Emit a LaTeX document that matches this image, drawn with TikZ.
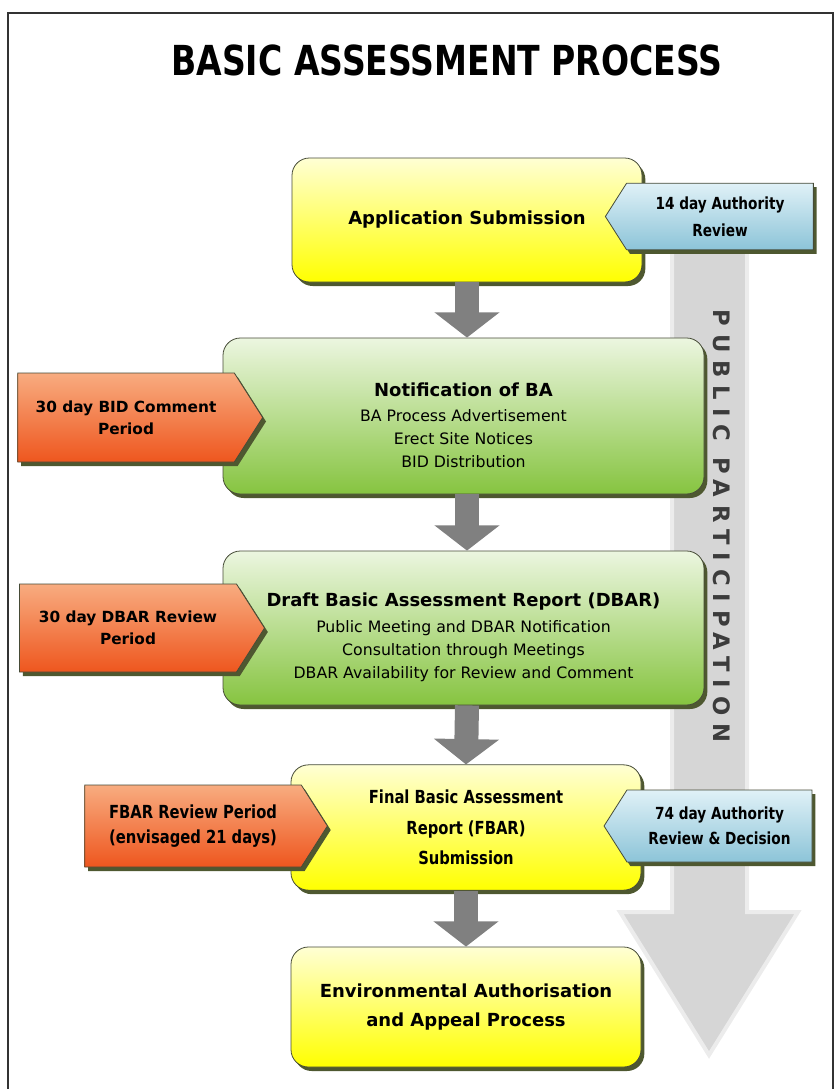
\documentclass[tikz,border=0pt]{standalone}
\usepackage{fontspec}
\setmainfont{DejaVu Sans}
\newfontfamily\titlefont[FakeStretch=0.8]{DejaVu Sans}
\newfontfamily\narrowfont[FakeStretch=0.82]{DejaVu Sans}
\newfontfamily\ppfont[LetterSpace=35]{DejaVu Sans}
\usetikzlibrary{arrows.meta,shapes.symbols,shadows}

\definecolor{ytop}{RGB}{255,255,212}
\definecolor{ybot}{RGB}{255,255,0}
\definecolor{gtop}{RGB}{236,246,224}
\definecolor{gbot}{RGB}{134,196,64}
\definecolor{otop}{RGB}{248,172,128}
\definecolor{obot}{RGB}{238,86,30}
\definecolor{btop}{RGB}{224,241,247}
\definecolor{bbot}{RGB}{140,196,216}
\definecolor{boxline}{RGB}{70,75,55}
\definecolor{shadecol}{RGB}{78,88,48}
\definecolor{flowgray}{RGB}{128,128,128}
\definecolor{ppfill}{RGB}{214,214,214}
\definecolor{ppedge}{RGB}{236,236,236}
\definecolor{pptext}{RGB}{60,60,60}

\begin{document}
\begin{tikzpicture}[x=0.75pt,y=-0.75pt]
    \tikzstyle{box}=[draw=boxline,line width=0.6pt,align=center,rounded corners=13pt,
        drop shadow={shadow xshift=2.5pt,shadow yshift=-3pt,fill=shadecol,opacity=1}]
    \tikzstyle{yellow box}=[box,top color=ytop,bottom color=ybot,minimum width=262.5pt]
    \tikzstyle{green box}=[box,top color=gtop,bottom color=gbot,minimum width=360.75pt]
    \tikzstyle{tab}=[shape=signal,signal from=nowhere,signal pointer angle=115,draw=boxline,
        line width=0.6pt,align=center,inner sep=2pt,
        drop shadow={shadow xshift=2.5pt,shadow yshift=-3pt,fill=shadecol,opacity=1}]
    \tikzstyle{orange tab}=[tab,signal to=east,top color=otop,bottom color=obot]
    \tikzstyle{blue tab}=[tab,signal to=west,top color=btop,bottom color=bbot]
    \tikzstyle{flow}=[draw=flowgray,line width=18pt,-{Triangle[width=48pt,length=19pt]}]
    \tikzstyle{head}=[font=\bfseries\fontsize{13.5}{17}\selectfont]

    \useasboundingbox (0,0) rectangle (837,1089);
    \draw[line width=1.5pt,draw=black!80] (8,13) rectangle (833,1100);

    \node (title) at (447,60) {\titlefont\bfseries\fontsize{31}{31}\selectfont BASIC ASSESSMENT PROCESS};

    % public participation arrow
    \draw[fill=ppfill,draw=ppedge,line width=3pt,line join=miter]
        (672,200) -- (747,200) -- (747,912) -- (798,912) -- (709,1055) -- (620,912) -- (672,912) -- cycle;
    \node[rotate=-90,text=pptext] (pp) at (722,526)
        {\ppfont\bfseries\fontsize{17}{17}\selectfont PUBLIC PARTICIPATION};

    % main boxes
    \node[yellow box,minimum height=93pt,head] (as) at (467,220) {Application Submission};
    \node[green box,minimum height=117pt,font=\fontsize{11.8}{17.25}\selectfont] (nba) at (463.5,416)
        {\rule{0pt}{24pt}{\bfseries\fontsize{13.5}{17}\selectfont Notification of BA}\\[2pt]
        BA Process Advertisement\\Erect Site Notices\\BID Distribution};
    \node[green box,minimum height=115.5pt,font=\fontsize{11.8}{17.25}\selectfont] (dbar) at (463.5,628)
        {\rule{0pt}{24pt}{\bfseries\fontsize{13.5}{17}\selectfont Draft Basic Assessment Report (DBAR)}\\[2pt]
        Public Meeting and DBAR Notification\\Consultation through Meetings\\DBAR Availability for Review and Comment};
    \node[yellow box,minimum height=94pt,font=\narrowfont\bfseries\fontsize{13.5}{23}\selectfont] (fbar) at (466,827.5)
        {Final Basic Assessment\\Report (FBAR)\\Submission};
    \node[yellow box,minimum height=90pt,font=\bfseries\fontsize{13.5}{22}\selectfont] (ea) at (466,1007)
        {Environmental Authorisation\\and Appeal Process};

    % side tabs
    \node[blue tab,minimum width=156pt,minimum height=50pt,font=\narrowfont\bfseries\fontsize{12.5}{20}\selectfont]
        (t1) at (720,216.5) {14 day Authority\\Review};
    \node[orange tab,minimum width=183.75pt,minimum height=66.75pt,font=\bfseries\fontsize{11.5}{16.5}\selectfont]
        (t2) at (126,417.5) {30 day BID Comment\\Period};
    \node[orange tab,minimum width=183.75pt,minimum height=66pt,font=\bfseries\fontsize{11.5}{16.5}\selectfont]
        (t3) at (128,628) {30 day DBAR Review\\Period};
    \node[orange tab,minimum width=182pt,minimum height=61.5pt,font=\narrowfont\bfseries\fontsize{13.5}{19}\selectfont]
        (t4) at (193,826) {FBAR Review Period\\(envisaged 21 days)};
    \node[blue tab,minimum width=156pt,minimum height=54pt,font=\narrowfont\bfseries\fontsize{12.5}{19}\selectfont]
        (t5) at (719.5,826) {74 day Authority\\Review \& Decision};

    % flow arrows
    \draw[flow] (as.south) -- (as.south |- nba.north);
    \draw[flow] (as.south |- nba.south) -- (as.south |- dbar.north);
    \draw[flow] (as.south |- dbar.south) -- (fbar.north);
    \draw[flow] (fbar.south) -- (ea.north);
\end{tikzpicture}
\end{document}
